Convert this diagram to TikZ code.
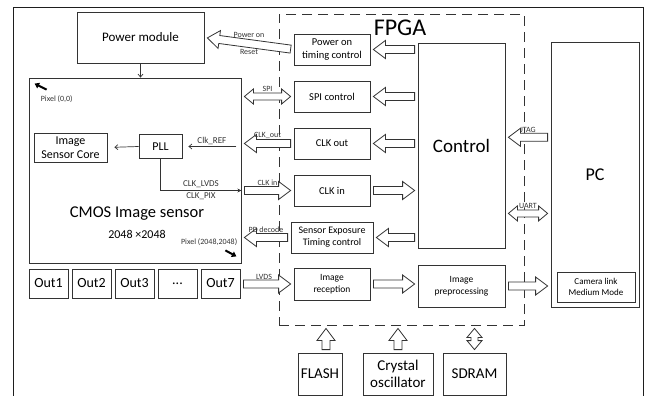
\documentclass[tikz,border=0pt]{standalone}
\usepackage{fontspec}
\setmainfont{Carlito}
\usetikzlibrary{arrows.meta,positioning,calc}
\definecolor{ink}{HTML}{333333}
\definecolor{rim}{HTML}{1E1E1E}

\begin{document}
\begin{tikzpicture}[x=1pt, y=-1pt,
  box/.style={draw=ink, line width=0.8pt, align=center, inner sep=1pt, font=\fontsize{10.5}{12.5}\selectfont},
  outbox/.style={box, minimum width=39pt, minimum height=29pt, font=\fontsize{14}{16}\selectfont},
  btmbox/.style={box, minimum height=42pt, font=\fontsize{15}{16.5}\selectfont},
  lbl/.style={font=\fontsize{8}{9}\selectfont, text=ink, inner sep=1pt},
  arr/.style={-{Straight Barb[length=3pt,width=5pt]}, draw=ink, line width=0.7pt},
  pix/.style={-{Triangle[length=4.5pt,width=6pt]}, draw=black, line width=2pt},
  fat/.style={draw=ink, line width=0.8pt, fill=white, to path={
    let \p1=(\tikztostart), \p2=(\tikztotarget),
        \p3=($(\p1)!3pt!(\p2)$), \p4=($(\p2)!3pt!(\p1)$), \p5=($(\p4)!12pt!(\p3)$) in
    ($(\p3)!4pt!90:(\p4)$) -- ($(\p5)!4pt!-90:(\p3)$) -- ($(\p5)!9pt!-90:(\p3)$) -- (\p4)
    -- ($(\p5)!9pt!90:(\p3)$) -- ($(\p5)!4pt!90:(\p3)$) -- ($(\p3)!4pt!-90:(\p4)$) -- cycle}},
  fatboth/.style={draw=ink, line width=0.8pt, fill=white, to path={
    let \p1=(\tikztostart), \p2=(\tikztotarget),
        \p3=($(\p1)!3pt!(\p2)$), \p4=($(\p2)!3pt!(\p1)$),
        \p5=($(\p4)!9pt!(\p3)$), \p6=($(\p3)!9pt!(\p4)$) in
    (\p3) -- ($(\p6)!7.5pt!90:(\p4)$) -- ($(\p6)!3.5pt!90:(\p4)$) -- ($(\p5)!3.5pt!-90:(\p3)$)
    -- ($(\p5)!7.5pt!-90:(\p3)$) -- (\p4) -- ($(\p5)!7.5pt!90:(\p3)$) -- ($(\p5)!3.5pt!90:(\p3)$)
    -- ($(\p6)!3.5pt!-90:(\p4)$) -- ($(\p6)!7.5pt!-90:(\p4)$) -- cycle}},
]
\useasboundingbox (0,0) rectangle (648,396);
\draw[draw=rim, line width=1pt] (13,396) -- (13,8) -- (643,8) -- (643,396);

% sensor side
\node[box, minimum width=127pt, minimum height=51pt, font=\fontsize{13}{15}\selectfont] (pwrmod) at (140.5,37.5) {Power module};
\node[box, minimum width=212pt, minimum height=185pt] (cmos) at (135,170.5) {};
\node[box, minimum width=73pt, minimum height=29pt, font=\fontsize{12}{13.5}\selectfont] (core) at (70.5,147.5) {Image\\Sensor Core};
\node[box, minimum width=43pt, minimum height=24pt, font=\fontsize{12}{13.5}\selectfont] (pll) at (160.5,146.5) {PLL};
\node[font=\fontsize{16.5}{19}\selectfont, inner sep=0pt] (cmostxt) at (137,214) {CMOS Image sensor};
\node[font=\fontsize{12}{14}\selectfont, inner sep=0pt] (cmosres) at (137,234) {2048 ×2048};
\node[lbl, anchor=west] (p00txt) at ($(cmos.north west)+(11,22)$) {Pixel (0,0)};
\node[lbl, anchor=east] (pmaxtxt) at ($(cmos.south east)+(-3,-21)$) {Pixel (2048,2048)};
\node[outbox] (out1) at (48.5,283.5) {Out1};
\node[outbox, right=3.2pt of out1] (out2) {Out2};
\node[outbox, right=3.2pt of out2] (out3) {Out3};
\node[outbox, right=3.2pt of out3] (outdots) {...};
\node[outbox, right=3.2pt of outdots] (out7) {Out7};

% FPGA
\node[draw=ink, line width=0.9pt, dash pattern=on 10pt off 6pt, minimum width=245pt, minimum height=311pt] (fpga) at (401.5,169.5) {};
\node[font=\fontsize{24}{26}\selectfont, inner sep=0pt] (fpgatxt) at (400,28) {FPGA};
\node[box, minimum width=76pt, minimum height=31pt] (pwron) at (332,49.5) {Power on\\timing control};
\node[box, minimum width=76pt, minimum height=31pt, below=15.2pt of pwron] (spi) {SPI control};
\node[box, minimum width=76pt, minimum height=31pt, below=15.2pt of spi] (clkout) {CLK out};
\node[box, minimum width=76pt, minimum height=31pt, below=15.2pt of clkout] (clkin) {CLK in};
\node[box, minimum width=82pt, minimum height=31pt, below=15.2pt of clkin, font=\fontsize{10}{12}\selectfont] (sexp) {Sensor Exposure\\Timing control};
\node[box, minimum width=76pt, minimum height=32pt, below=14.2pt of sexp, font=\fontsize{9.5}{12}\selectfont] (imrec) {Image\\reception};
\node[box, minimum width=87pt, minimum height=205pt, font=\fontsize{19}{21}\selectfont] (ctrl) at (461.5,145.5) {Control};
\node[box, minimum width=87pt, minimum height=42pt, font=\fontsize{9.5}{12}\selectfont] (impre) at (461.5,286) {Image\\preprocessing};

% PC
\node[box, minimum width=88pt, minimum height=265pt, font=\fontsize{18}{20}\selectfont] (pc) at (595,174.5) {PC};
\node[box, minimum width=78pt, minimum height=30pt, font=\fontsize{9}{11}\selectfont] (cam) at (596,287) {Camera link\\Medium Mode};

% memories
\node[btmbox, minimum width=44pt] (flash) at (320,374) {FLASH};
\node[btmbox, minimum width=70pt] (xtal) at (398,374) {Crystal\\oscillator};
\node[btmbox, minimum width=63pt] (sdram) at (474.5,374) {SDRAM};

% inside the sensor
\draw[arr] (pwrmod.south) -- (pwrmod.south |- cmos.north);
\draw[arr, shorten <=5pt, shorten >=6pt] (cmos.east |- pll) -- node[lbl, above, font=\fontsize{9}{10}\selectfont] {Clk\_REF} (pll.east);
\draw[arr, shorten >=7pt] (pll.west) -- (core.east);
\draw[-{Stealth[length=4pt,width=4pt]}, draw=ink, line width=0.7pt] (pll.south) |- node[pos=0.75, lbl, above=1pt, font=\fontsize{9}{10}\selectfont] {CLK\_LVDS} node[pos=0.75, lbl, below=1pt, font=\fontsize{9}{10}\selectfont] {CLK\_PIX} (cmos.east |- clkin);
\coordinate (p00) at ($(cmos.north west)+(18,12)$);
\draw[pix] (p00) -- ++(-12,-6);
\coordinate (pmax) at ($(cmos.south east)+(-16,-13)$);
\draw[pix] (pmax) -- ++(11,6);

% sensor <-> FPGA
\draw[fat] (pwron.west) to (pwrmod.east);
\path (pwron.west) -- node[lbl, above=4.5pt] {Power on} node[lbl, below=4.5pt] {Reset} (pwrmod.east);
\draw[fatboth] (cmos.east |- spi) to (spi.west);
\path (cmos.east |- spi) -- node[lbl, above=3.5pt] {SPI} (spi.west);
\draw[fat] (clkout.west) to (cmos.east |- clkout);
\path (cmos.east |- clkout) -- node[lbl, above=3.5pt] {CLK\_out} (clkout.west);
\draw[fat] (cmos.east |- clkin) to (clkin.west);
\path (cmos.east |- clkin) -- node[lbl, above=3.5pt] {CLK in} (clkin.west);
\draw[fat] (sexp.west) to (cmos.east |- sexp);
\path (cmos.east |- sexp) -- node[lbl, above=3.5pt] {PD decode} (sexp.west);
\draw[fat] (out7.east |- imrec) to (imrec.west);
\path (out7.east |- imrec) -- node[lbl, above=3.5pt, xshift=-3pt] {LVDS} (imrec.west);

% inside the FPGA
\foreach \blk in {pwron,spi,clkout,sexp}
  \draw[fat] (ctrl.west |- \blk) to (\blk.east);
\draw[fat] (clkin.east) to (ctrl.west |- clkin);
\draw[fat] (imrec.east) to (impre.west |- imrec);

% FPGA <-> PC
\coordinate (jtag) at ($(ctrl.north east)!0.46!(ctrl.south east)$);
\coordinate (uart) at ($(ctrl.north east)!0.83!(ctrl.south east)$);
\draw[fat] (pc.west |- jtag) to (jtag);
\path (jtag) -- node[lbl, above=3.5pt] {JTAG} (pc.west |- jtag);
\draw[fatboth] (uart) to (pc.west |- uart);
\path (uart) -- node[lbl, above=3.5pt] {UART} (pc.west |- uart);
\draw[fat] (impre.east) to (pc.west |- impre);

% memories -> FPGA
\coordinate (flashup) at ($(flash.north)+(6,0)$);
\draw[fat] (flashup) to (flashup |- fpga.south);
\draw[fat] (xtal.north) to (xtal.north |- fpga.south);
\draw[fatboth] (sdram.north) to (sdram.north |- fpga.south);
\end{tikzpicture}
\end{document}
